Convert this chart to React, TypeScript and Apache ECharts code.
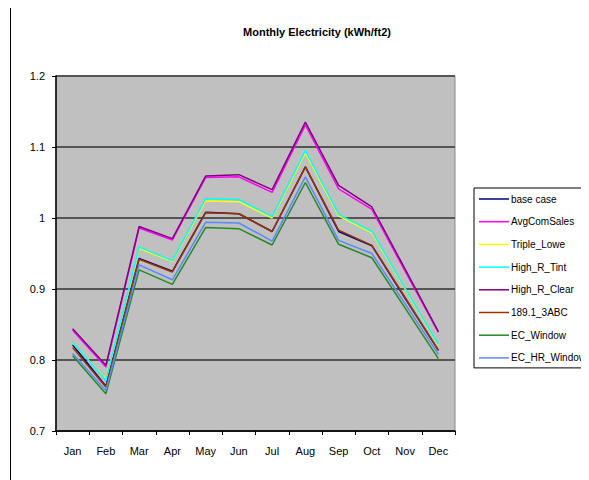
import React, { useEffect, useRef } from "react";
import * as echarts from "echarts";

const months = ["Jan", "Feb", "Mar", "Apr", "May", "Jun", "Jul", "Aug", "Sep", "Oct", "Nov", "Dec"];
const seriesNames = ["base case", "AvgComSales", "Triple_Lowe", "High_R_Tint", "High_R_Clear", "189.1_3ABC", "EC_Window", "EC_HR_Window"];
const seriesColors = ["#000080", "#FF00FF", "#FFFF00", "#00FFFF", "#800080", "#993300", "#228B22", "#5A88FF"];

const baseCase = [0.8215, 0.763, 0.943, 0.925, 1.008, 1.006, 0.981, 1.072, 0.981, 0.961, 0.887, 0.8135];
const avgComSales = [0.842, 0.79, 0.986, 0.969, 1.057, 1.058, 1.036, 1.131, 1.041, 1.012, 0.925, 0.839];
const tripleLowe = [0.824, 0.773, 0.957, 0.939, 1.024, 1.023, 1.0, 1.092, 1.003, 0.979, 0.9, 0.821];
const highRTint = [0.825, 0.7715, 0.959, 0.94, 1.027, 1.026, 1.002, 1.095, 1.005, 0.981, 0.901, 0.822];
const highRClear = [0.844, 0.7925, 0.988, 0.971, 1.059, 1.061, 1.04, 1.135, 1.046, 1.0155, 0.928, 0.84];
const abc189 = [0.8175, 0.762, 0.942, 0.924, 1.0075, 1.006, 0.981, 1.072, 0.983, 0.9615, 0.888, 0.8135];
const ecWindow = [0.806, 0.7525, 0.927, 0.9065, 0.9865, 0.985, 0.962, 1.05, 0.963, 0.944, 0.873, 0.802];
const ecHrWindow = [0.809, 0.757, 0.934, 0.913, 0.994, 0.993, 0.9675, 1.058, 0.9685, 0.95, 0.879, 0.808];

const seriesData = [baseCase, avgComSales, tripleLowe, highRTint, highRClear, abc189, ecWindow, ecHrWindow];
const yTicks = { min: 0.7, max: 1.2, interval: 0.1 };

const FONT = "'Liberation Sans', Arial, sans-serif";

export default function App() {
  const ref = useRef<HTMLDivElement>(null);
  useEffect(() => {
    if (!ref.current) return;
    const chart = echarts.init(ref.current, null, { renderer: "svg" });
    chart.setOption({
      animation: false,
      backgroundColor: "#ffffff",
      title: {
        text: "Monthly Electricity (kWh/ft2)",
        left: 312,
        top: 21,
        textAlign: "center",
        textStyle: { fontFamily: FONT, fontSize: 11, fontWeight: "bold", color: "#000" },
      },
      graphic: [
        {
          type: "rect",
          shape: { x: 10.5, y: 5.5, width: 700, height: 600 },
          style: { fill: "none", stroke: "#000", lineWidth: 1 },
          silent: true,
          z: -1,
        },
      ],
      legend: {
        orient: "vertical",
        left: 474,
        top: 188,
        padding: [5, 40, 4, 5],
        itemGap: 10.7,
        itemWidth: 30,
        itemHeight: 1.5,
        icon: "rect",
        borderColor: "#000",
        borderWidth: 1,
        backgroundColor: "#fff",
        textStyle: { fontFamily: FONT, fontSize: 10, color: "#000", lineHeight: 12, padding: [0, 0, 0, -3] },
        data: seriesNames,
      },
      grid: {
        left: 56,
        right: 134,
        top: 76,
        bottom: 49,
        show: true,
        backgroundColor: "#C0C0C0",
        borderColor: "#888",
        borderWidth: 1,
      },
      xAxis: {
        type: "category",
        data: months,
        boundaryGap: true,
        axisLine: { lineStyle: { color: "#000", width: 1.5 } },
        axisTick: { show: true, interval: 0, length: 4, lineStyle: { color: "#000" } },
        axisLabel: { fontFamily: FONT, fontSize: 11, color: "#000", margin: 14, interval: 0 },
        splitLine: { show: false },
      },
      yAxis: {
        type: "value",
        min: yTicks.min,
        max: yTicks.max,
        interval: yTicks.interval,
        axisLine: { show: true, lineStyle: { color: "#000", width: 1.5 } },
        axisTick: { show: true, length: 4, lineStyle: { color: "#000" } },
        axisLabel: { fontFamily: FONT, fontSize: 11, color: "#000", margin: 11 },
        splitLine: { show: true, lineStyle: { color: "#555", width: 2 } },
      },
      series: seriesNames.map((name, i) => ({
        name,
        type: "line",
        data: seriesData[i],
        symbol: "none",
        color: seriesColors[i],
        lineStyle: { color: seriesColors[i], width: 1.5 },
      })),
    });
    return () => chart.dispose();
  }, []);
  return <div ref={ref} style={{ width: 589, height: 480, marginLeft: -8, marginTop: -8 }} />;
}
